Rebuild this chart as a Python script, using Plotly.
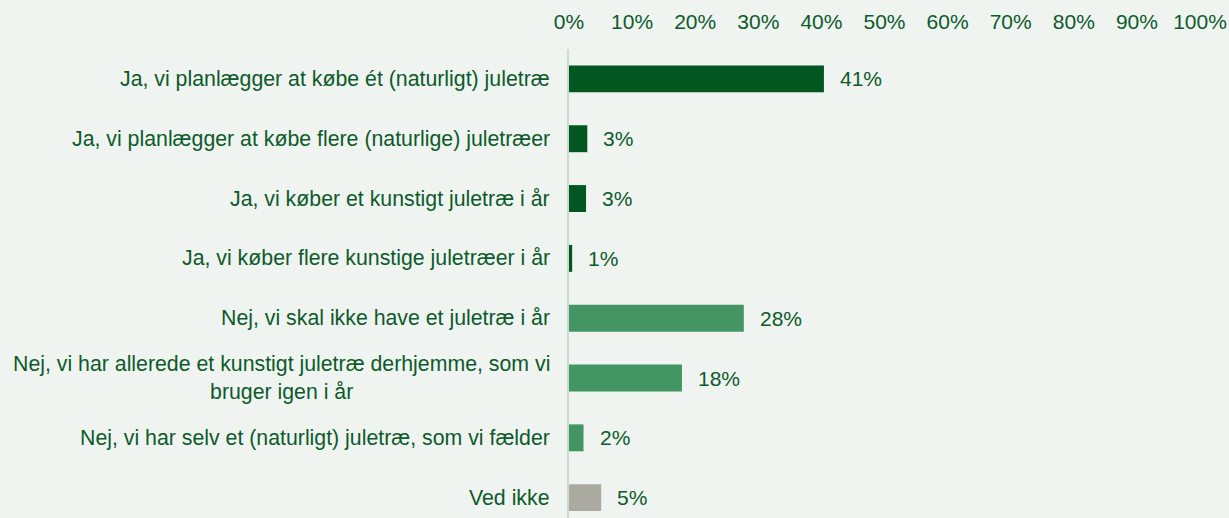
import plotly.graph_objects as go

categories = [
    "Ja, vi planlægger at købe ét (naturligt) juletræ",
    "Ja, vi planlægger at købe flere (naturlige) juletræer",
    "Ja, vi køber et kunstigt juletræ i år",
    "Ja, vi køber flere kunstige juletræer i år",
    "Nej, vi skal ikke have et juletræ i år",
    "Nej, vi har allerede et kunstigt juletræ derhjemme, som vi<br>bruger igen i år",
    "Nej, vi har selv et (naturligt) juletræ, som vi fælder",
    "Ved ikke",
]
values = [40.4, 2.9, 2.7, 0.5, 27.7, 17.9, 2.3, 5.1]
value_labels = ["41%", "3%", "3%", "1%", "28%", "18%", "2%", "5%"]
bar_colors = ["#02561F", "#02561F", "#02561F", "#02561F",
              "#439664", "#439664", "#439664", "#ABAAA1"]
x_ticks = list(range(0, 101, 10))

BG = "#EFF4F0"
TXT = "#0D5A2B"
FONT = "Liberation Sans, Arial, sans-serif"

fig = go.Figure()
fig.add_trace(go.Bar(
    x=values, y=categories, orientation="h",
    marker=dict(color=bar_colors, line=dict(width=0)),
    hoverinfo="skip",
))

for cat, v, lab in zip(categories, values, value_labels):
    fig.add_annotation(x=v, y=cat, xref="x", yref="y", text=lab,
                       showarrow=False, xanchor="left", yanchor="middle",
                       xshift=14, font=dict(size=21, color=TXT, family=FONT))
    fig.add_annotation(x=0, y=cat, xref="x", yref="y", text=cat,
                       showarrow=False, xanchor="right", yanchor="middle",
                       align="center", xshift=-17,
                       font=dict(size=21.3, color=TXT, family=FONT))

fig.update_layout(
    width=1229, height=518,
    paper_bgcolor=BG, plot_bgcolor=BG,
    margin=dict(l=569, r=29, t=49, b=0),
    bargap=0.55,
    showlegend=False,
    font=dict(family=FONT, size=21, color=TXT),
    xaxis=dict(range=[0, 100], side="top", tickmode="array",
               tickvals=x_ticks, ticktext=[f"{t}%" for t in x_ticks],
               showgrid=False, zeroline=False, showline=False,
               ticks="outside", ticklen=11, tickcolor=BG,
               tickfont=dict(size=21, color=TXT, family=FONT)),
    yaxis=dict(range=[7.34, -0.5], showticklabels=False, showgrid=False,
               zeroline=False, showline=True, linecolor="#C8DBCD",
               linewidth=2, ticks=""),
)

fig.write_html(
    "out.html",
    config={"displayModeBar": False},
    post_script="document.body.style.margin='0';document.body.style.background='%s';" % BG,
)
